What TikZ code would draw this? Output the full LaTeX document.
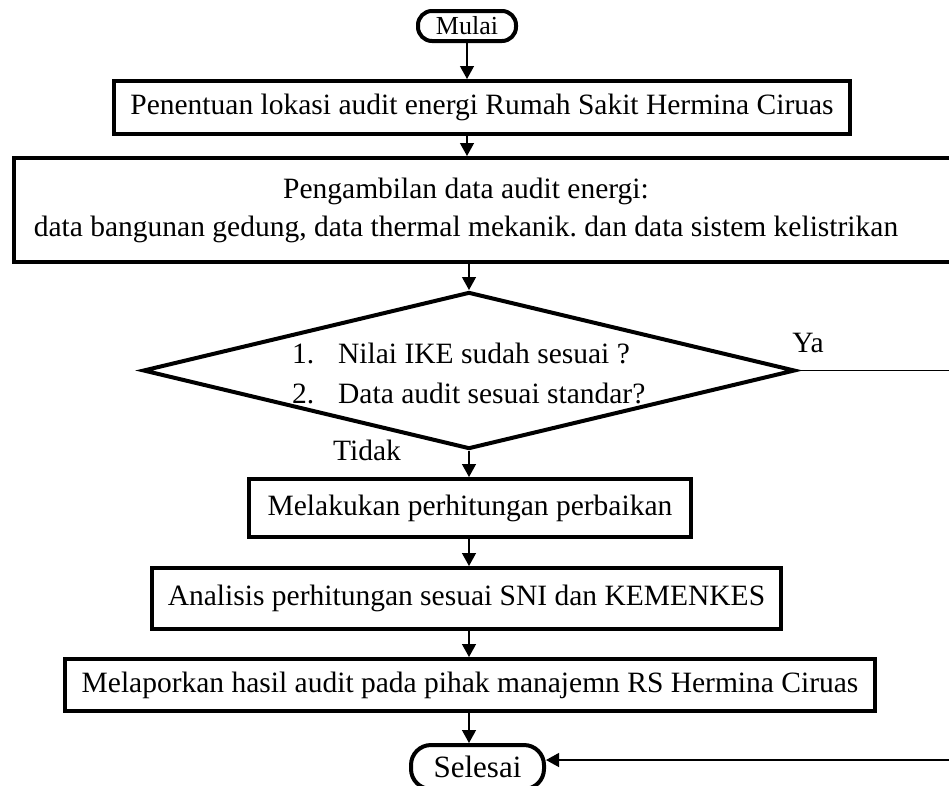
\documentclass[tikz,border=0pt]{standalone}
\usepackage{fontspec}
\setmainfont{Liberation Serif}
\usepackage{tikz}
\usetikzlibrary{shapes.geometric, arrows.meta, positioning, calc}
\frenchspacing

\begin{document}
\begin{tikzpicture}[x=1pt, y=-1pt, >={Triangle[length=13pt,width=14pt]},
    font=\fontsize{29.5}{38}\selectfont,
    kotak/.style={draw, line width=4pt, inner sep=0pt},
    terminal/.style={draw, line width=4pt, inner sep=0pt},
    keputusan/.style={draw, diamond, line width=4pt, inner sep=0pt},
    alur/.style={->, line width=1.3pt}]
    \useasboundingbox (0,0) rectangle (949,785);
    \node[terminal, rounded corners=14pt, minimum width=98pt, minimum height=30pt,
        font=\fontsize{26}{30}\selectfont] (mulai) at (467,26) {Mulai};
    \node[kotak, minimum width=736pt, minimum height=53pt] (lokasi) at (482,107.5)
        {Penentuan lokasi audit energi Rumah Sakit Hermina Ciruas};
    \node[kotak, minimum width=946pt, minimum height=104pt, align=center] (data) at (487,210)
        {Pengambilan data audit energi:\hspace*{42pt}\\
         data bangunan gedung, data thermal mekanik. dan data sistem kelistrikan\hspace*{42pt}};
    \node[keputusan, minimum width=652pt, minimum height=157pt] (cek) at (469,370.5) {};
    \node[anchor=west, align=left, inner sep=0pt, font=\fontsize{29.5}{40}\selectfont] (syarat) at (292,373)
        {\makebox[46pt][l]{1.}Nilai IKE sudah sesuai ?\\
         \makebox[46pt][l]{2.}Data audit sesuai standar?};
    \node (ya) at (808,343) {Ya};
    \node (tidak) at (367,450) {Tidak};
    \node[kotak, minimum width=442pt, minimum height=58pt] (lakukan) at (470,508)
        {Melakukan perhitungan perbaikan};
    \node[kotak, minimum width=629pt, minimum height=61pt] (analisis) at (466.5,598.5)
        {Analisis perhitungan sesuai SNI dan KEMENKES};
    \node[kotak, minimum width=810pt, minimum height=52pt] (lapor) at (470,685)
        {Melaporkan hasil audit pada pihak manajemn RS Hermina Ciruas};
    \node[terminal, rounded corners=20pt, minimum width=133pt, minimum height=44pt,
        font=\fontsize{31}{36}\selectfont] (selesai) at (477.5,767) {Selesai};

    \draw[alur] (mulai.south) -- (mulai.south |- lokasi.north);
    \draw[alur] (lokasi.south -| mulai) -- (data.north -| mulai);
    \draw[alur] (data.south -| cek) -- (cek.north);
    \draw[alur] (cek.south) -- (cek.south |- lakukan.north);
    \draw[alur] (lakukan.south -| cek) -- (analisis.north -| cek);
    \draw[alur] (analisis.south -| cek) -- (lapor.north -| cek);
    \draw[alur] (lapor.south -| cek) -- (selesai.north -| cek);
    \draw[alur] (cek.east) -- ++(180,0) |- ([yshift=7pt]selesai.east);
\end{tikzpicture}
\end{document}
